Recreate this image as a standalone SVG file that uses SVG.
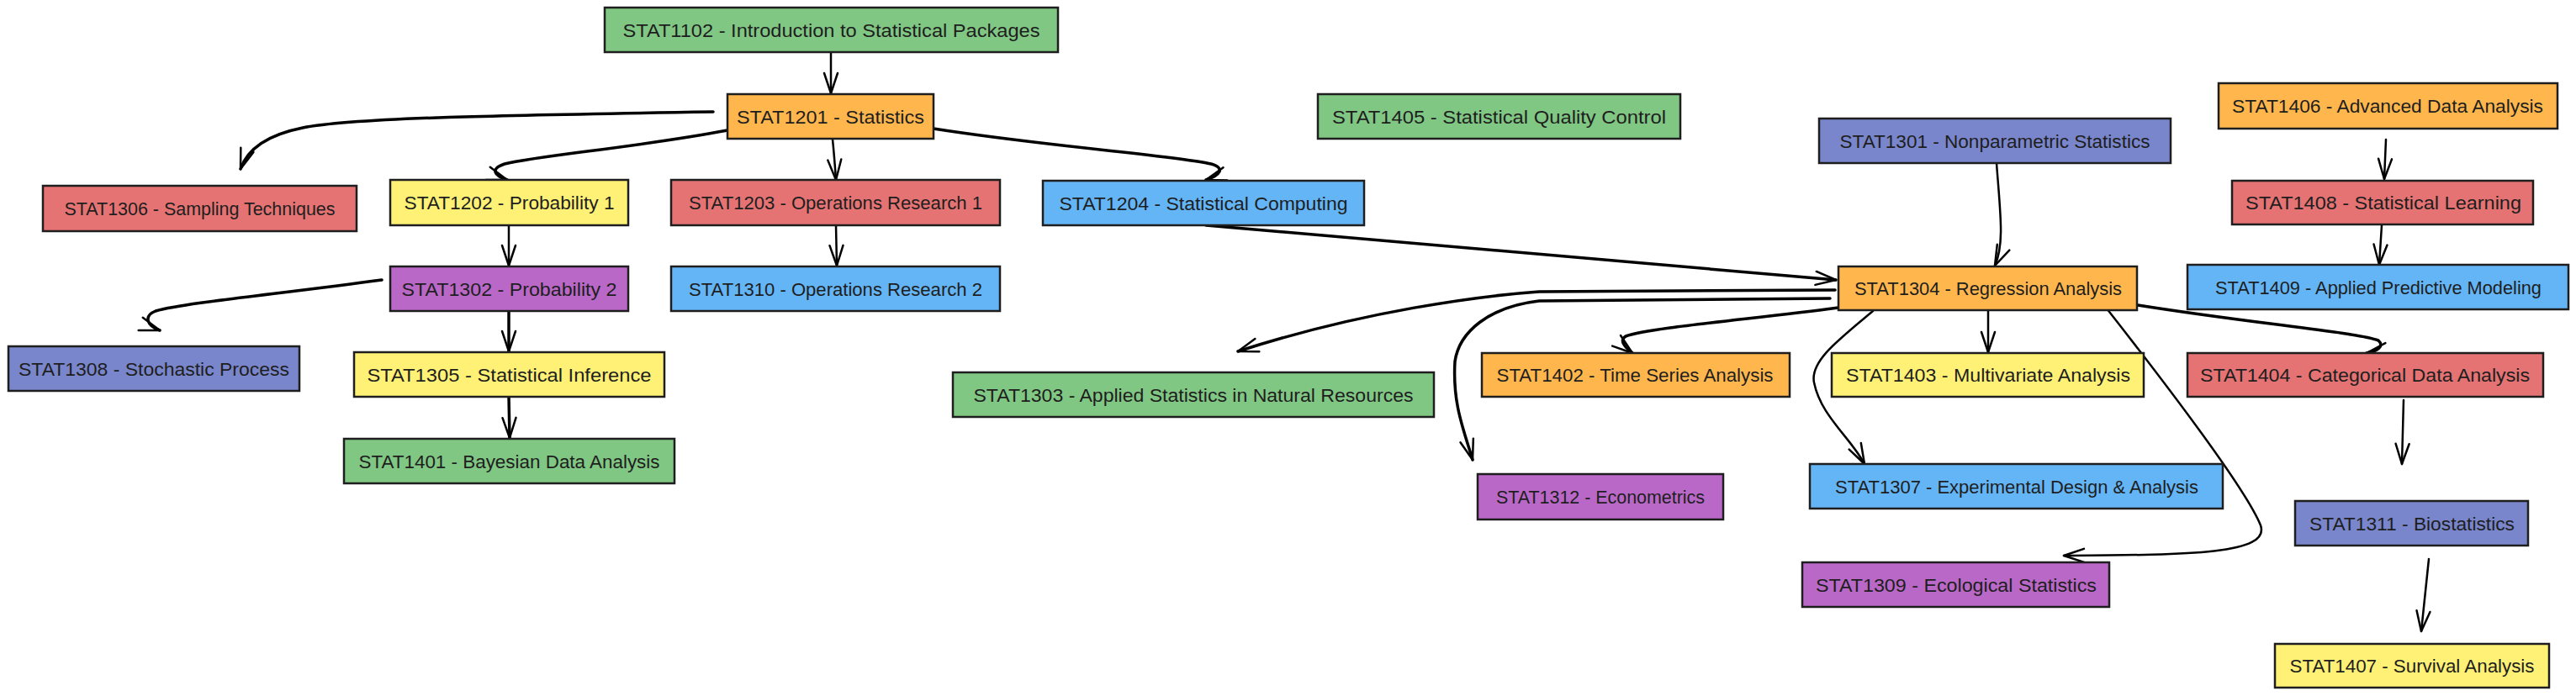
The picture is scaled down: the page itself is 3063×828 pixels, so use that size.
<svg xmlns="http://www.w3.org/2000/svg" width="3063" height="828" viewBox="0 0 3063 828">
<style>
.box{stroke:#1e1e1e;stroke-width:2.5}
.g{fill:#81c784}.o{fill:#ffb74d}.r{fill:#e57373}.y{fill:#fff176}.p{fill:#ba68c8}.b{fill:#64b5f6}.i{fill:#7986cb}
text{font-family:"Liberation Sans",Arial,sans-serif;font-size:22px;fill:#1e1e1e;text-anchor:middle}
.c path{fill:none;stroke:#000;stroke-width:2.5;stroke-linecap:round;marker-end:url(#ah)}
.c path.t{stroke-width:3.5}
</style>
<defs>
<marker id="ah" markerUnits="userSpaceOnUse" viewBox="-30 -15 35 30" markerWidth="35" markerHeight="30" refX="0" refY="0" orient="auto" overflow="visible">
<path d="M-24,-8 L0,0 L-24,8" fill="none" stroke="#000" stroke-width="2.5" stroke-linecap="round" stroke-linejoin="round"/>
</marker>
</defs>
<rect width="3063" height="828" fill="#fff"/>
<g class="c" id="connectors">
<path d="M988,62 L988,111"/>
<path class="t" d="M848,133 C600,137 420,140 360,152 C320,160 295,175 286,201"/>
<path class="t" d="M865,155 C760,175 640,185 600,195 C582,201 588,209 603,214"/>
<path d="M990,166 C992,185 993,200 994,214"/>
<path class="t" d="M1110,153 C1250,175 1400,185 1440,195 C1458,200 1450,209 1434,214"/>
<path d="M605,268 L605,316"/>
<path d="M994,268 L995,316"/>
<path class="t" d="M454,333 C330,350 220,360 185,370 C170,376 175,388 190,393"/>
<path class="t" d="M605,370 L605,418"/>
<path class="t" d="M605,472 L606,521"/>
<path class="t" d="M1434,268 L2183,333"/>
<path d="M2374,194 C2378,250 2384,290 2372,316"/>
<path class="t" d="M2182,345 L1830,347 C1760,352 1620,370 1472,418"/>
<path class="t" d="M2176,355 L1830,358 C1770,365 1735,395 1730,430 C1727,480 1740,510 1751,547"/>
<path class="t" d="M2186,366 C2080,380 1960,390 1933,400 C1925,405 1932,413 1941,420"/>
<path d="M2364,369 L2364,419"/>
<path d="M2227,370 C2185,405 2152,430 2157,455 C2165,495 2200,520 2217,552"/>
<path d="M2505,367 C2570,450 2670,580 2688,625 C2700,660 2600,660 2454,661"/>
<path class="t" d="M2542,363 C2680,385 2800,395 2828,405 C2836,412 2826,418 2814,420"/>
<path d="M2837,166 L2835,213"/>
<path d="M2832,268 L2829,315"/>
<path d="M2858,476 L2856,552"/>
<path d="M2888,665 L2879,751"/>
</g>
<g id="STAT1102"><rect class="box g" x="719" y="9" width="539" height="53"/><text x="988.5" y="43.5" textLength="496" lengthAdjust="spacingAndGlyphs">STAT1102 - Introduction to Statistical Packages</text></g>
<g id="STAT1201"><rect class="box o" x="865" y="112" width="245" height="53"/><text x="987.5" y="146.5" textLength="223" lengthAdjust="spacingAndGlyphs">STAT1201 - Statistics</text></g>
<g id="STAT1306"><rect class="box r" x="51" y="221" width="373" height="54"/><text x="237.5" y="256" textLength="322" lengthAdjust="spacingAndGlyphs">STAT1306 - Sampling Techniques</text></g>
<g id="STAT1202"><rect class="box y" x="464" y="214" width="283" height="54"/><text x="605.5" y="249" textLength="250" lengthAdjust="spacingAndGlyphs">STAT1202 - Probability 1</text></g>
<g id="STAT1203"><rect class="box r" x="798" y="214" width="391" height="54"/><text x="993.5" y="249" textLength="349" lengthAdjust="spacingAndGlyphs">STAT1203 - Operations Research 1</text></g>
<g id="STAT1204"><rect class="box b" x="1240" y="215" width="382" height="53"/><text x="1431" y="249.5" textLength="343" lengthAdjust="spacingAndGlyphs">STAT1204 - Statistical Computing</text></g>
<g id="STAT1405"><rect class="box g" x="1567" y="112" width="431" height="53"/><text x="1782.5" y="146.5" textLength="397" lengthAdjust="spacingAndGlyphs">STAT1405 - Statistical Quality Control</text></g>
<g id="STAT1301"><rect class="box i" x="2163" y="141" width="418" height="53"/><text x="2372" y="175.5" textLength="369" lengthAdjust="spacingAndGlyphs">STAT1301 - Nonparametric Statistics</text></g>
<g id="STAT1406"><rect class="box o" x="2638" y="99" width="403" height="54"/><text x="2839" y="134" textLength="370" lengthAdjust="spacingAndGlyphs">STAT1406 - Advanced Data Analysis</text></g>
<g id="STAT1408"><rect class="box r" x="2654" y="215" width="358" height="52"/><text x="2834" y="249" textLength="328" lengthAdjust="spacingAndGlyphs">STAT1408 - Statistical Learning</text></g>
<g id="STAT1409"><rect class="box b" x="2601" y="315" width="453" height="53"/><text x="2828" y="349.5" textLength="388" lengthAdjust="spacingAndGlyphs">STAT1409 - Applied Predictive Modeling</text></g>
<g id="STAT1302"><rect class="box p" x="464" y="317" width="283" height="53"/><text x="605.5" y="351.5" textLength="256" lengthAdjust="spacingAndGlyphs">STAT1302 - Probability 2</text></g>
<g id="STAT1310"><rect class="box b" x="798" y="317" width="391" height="53"/><text x="993.5" y="351.5" textLength="349" lengthAdjust="spacingAndGlyphs">STAT1310 - Operations Research 2</text></g>
<g id="STAT1308"><rect class="box i" x="10" y="412" width="346" height="53"/><text x="183" y="446.5" textLength="322" lengthAdjust="spacingAndGlyphs">STAT1308 - Stochastic Process</text></g>
<g id="STAT1305"><rect class="box y" x="421" y="419" width="369" height="53"/><text x="605.5" y="453.5" textLength="338" lengthAdjust="spacingAndGlyphs">STAT1305 - Statistical Inference</text></g>
<g id="STAT1401"><rect class="box g" x="409" y="522" width="393" height="53"/><text x="605.5" y="556.5" textLength="358" lengthAdjust="spacingAndGlyphs">STAT1401 - Bayesian Data Analysis</text></g>
<g id="STAT1304"><rect class="box o" x="2186" y="317" width="355" height="52"/><text x="2364" y="351" textLength="318" lengthAdjust="spacingAndGlyphs">STAT1304 - Regression Analysis</text></g>
<g id="STAT1303"><rect class="box g" x="1133" y="443" width="572" height="53"/><text x="1419" y="477.5" textLength="523" lengthAdjust="spacingAndGlyphs">STAT1303 - Applied Statistics in Natural Resources</text></g>
<g id="STAT1402"><rect class="box o" x="1762" y="420" width="366" height="52"/><text x="1944" y="454" textLength="329" lengthAdjust="spacingAndGlyphs">STAT1402 - Time Series Analysis</text></g>
<g id="STAT1403"><rect class="box y" x="2178" y="420" width="371" height="52"/><text x="2364" y="454" textLength="338" lengthAdjust="spacingAndGlyphs">STAT1403 - Multivariate Analysis</text></g>
<g id="STAT1404"><rect class="box r" x="2601" y="420" width="423" height="52"/><text x="2812" y="454" textLength="392" lengthAdjust="spacingAndGlyphs">STAT1404 - Categorical Data Analysis</text></g>
<g id="STAT1312"><rect class="box p" x="1757" y="564" width="292" height="54"/><text x="1903" y="599" textLength="248" lengthAdjust="spacingAndGlyphs">STAT1312 - Econometrics</text></g>
<g id="STAT1307"><rect class="box b" x="2152" y="552" width="491" height="53"/><text x="2398" y="586.5" textLength="432" lengthAdjust="spacingAndGlyphs">STAT1307 - Experimental Design &amp; Analysis</text></g>
<g id="STAT1311"><rect class="box i" x="2729" y="596" width="277" height="53"/><text x="2868" y="630.5" textLength="244" lengthAdjust="spacingAndGlyphs">STAT1311 - Biostatistics</text></g>
<g id="STAT1309"><rect class="box p" x="2143" y="669" width="365" height="53"/><text x="2326" y="703.5" textLength="334" lengthAdjust="spacingAndGlyphs">STAT1309 - Ecological Statistics</text></g>
<g id="STAT1407"><rect class="box y" x="2705" y="766" width="326" height="52"/><text x="2868" y="800" textLength="291" lengthAdjust="spacingAndGlyphs">STAT1407 - Survival Analysis</text></g>
</svg>
